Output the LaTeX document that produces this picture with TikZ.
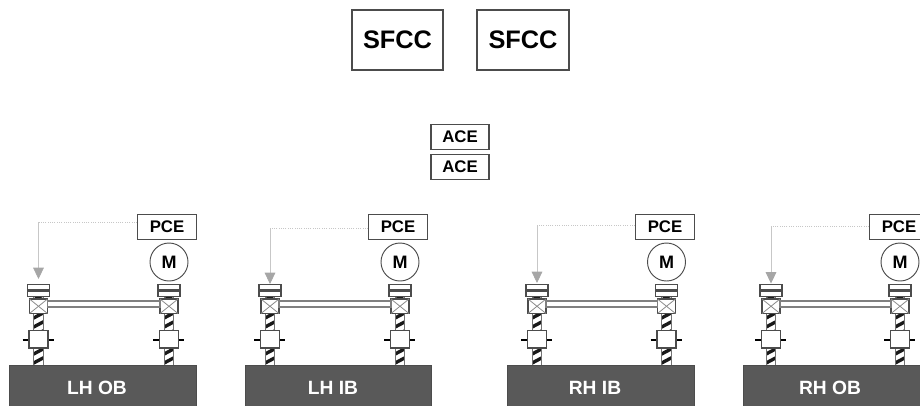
\documentclass[tikz,border=0pt]{standalone}
\usepackage{fontspec}
\setmainfont{Liberation Sans}
\usetikzlibrary{arrows.meta}
\tikzset{
 x=0.75pt,y=-0.75pt,
 box/.style={draw=black!70,line width=0.8pt,fill=white,inner sep=0pt,font=\bfseries},
 smalltext/.style={font=\bfseries\fontsize{12.6}{12.6}\selectfont},
 bigtext/.style={font=\bfseries\fontsize{19}{19}\selectfont},
 hyd/.style={draw=black!22,line width=0.7pt,densely dotted},
 hydend/.style={draw=black!22,line width=0.6pt,-{Triangle[length=8.5pt,width=8pt,fill=black!35,color=black!35]}},
 plate/.style={draw=black!70,line width=0.8pt,fill=white},
}
\newcommand{\screw}[1]{%
 \begin{scope}
 \clip (#1-4.7,296) rectangle (#1+4.7,365);
 \fill[white] (#1-4.7,296) rectangle (#1+4.7,365);
 \foreach \yy in {296,305,...,374} {\fill[black!90] (#1-4.7,\yy+2) -- (#1+4.7,\yy-3) -- (#1+4.7,\yy+0.8) -- (#1-4.7,\yy+5.8) -- cycle;}
 \end{scope}
 \draw[black!55,line width=0.6pt] (#1-4.7,296) -- (#1-4.7,365) (#1+4.7,296) -- (#1+4.7,365);
}
\newcommand{\actuator}[1]{%
 \screw{#1}
 \draw[plate] (#1-11,284.5) rectangle (#1+11,290);
 \draw[plate] (#1-11,291.5) rectangle (#1+11,296.5);
 \draw[black!70,line width=0.8pt,fill=white] (#1-9,299) rectangle (#1+9,313.5);
 \draw[black!45,line width=0.6pt] (#1-9,299) -- (#1+9,313.5) (#1-9,313.5) -- (#1+9,299);
 \draw[black,line width=1.5pt] (#1-16,339.5) -- (#1-9,339.5) (#1+9,339.5) -- (#1+15,339.5);
 \draw[black!70,line width=0.8pt,fill=white] (#1-9.5,330.5) rectangle (#1+9.5,348);
}
% #1 name, #2 left x, #3 right x, #4 panel l, #5 panel r, #6 pce left, #7 line y, #8 tip y, #9 label x
\newcommand{\unit}[9]{%
 \actuator{#2}\actuator{#3}
 \draw[black!50,line width=1pt,fill=white] (#2+9,301) rectangle (#3-9,307);
 \fill[black!65,draw=black!70,line width=0.7pt] (#4,365) rectangle (#5,406);
 \node[box,smalltext,minimum width=59*0.75pt,minimum height=25*0.75pt,anchor=north west] (#1pce) at (#6,214) {PCE};
 \node[circle,draw=black!70,line width=0.7pt,fill=white,inner sep=0pt,minimum size=38*0.75pt,font=\bfseries\fontsize{13.5}{13.5}\selectfont] (#1m) at (#3,262) {M};
 \coordinate (#1corner) at (#2,#7);
 \coordinate (#1tip) at (#2,#8);
 \draw[hyd] (#1pce.west |- #1corner) -- (#1corner);
 \draw[hydend] (#1corner) -- (#1tip);
 \coordinate (#1lab) at (#9,388);
}
\begin{document}
\begin{tikzpicture}
\useasboundingbox (0,0) rectangle (920,405);
\clip (0,0) rectangle (920,405);
\node[box,bigtext,minimum width=91*0.75pt,minimum height=60*0.75pt] (s1) at (397.5,40) {SFCC};
\node[box,bigtext,minimum width=92*0.75pt,minimum height=60*0.75pt] (s2) at (523,40) {SFCC};
\node[box,smalltext,minimum width=58*0.75pt,minimum height=25*0.75pt] (a1) at (460,137) {ACE};
\node[box,smalltext,minimum width=58*0.75pt,minimum height=25*0.75pt] (a2) at (460,167) {ACE};
\unit{u}{38.5}{169}{9}{196}{137}{222}{279}{97}
\unit{v}{270}{400}{245}{431}{368}{228}{284}{333}
\unit{w}{537}{666.5}{507}{694}{635}{225}{283}{595}
\unit{z}{771}{900}{743}{932}{869}{226}{283.5}{830}
\tikzset{panellabel/.style={text=white,inner sep=0pt,font=\bfseries\fontsize{14.4}{14.4}\selectfont}}
\node[panellabel] (t1) at (ulab) {LH OB};
\node[panellabel] (t2) at (vlab) {LH IB};
\node[panellabel] (t3) at (wlab) {RH IB};
\node[panellabel] (t4) at (zlab) {RH OB};
\end{tikzpicture}
\end{document}
